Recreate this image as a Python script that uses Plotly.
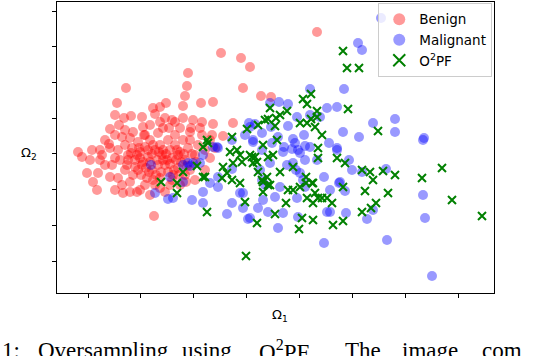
import plotly.graph_objects as go

# Values in chart units (Ω1 horizontally, Ω2 vertically)
benign_pts = [
    (221,247),(241,242),(250,233),(317,268),(243,212),(261,204),(271,203),(188,227),(187,214),(185,204),
    (183,194),(126,212),(117,197),(201,197),(213,198),(153,192),(160,193),(166,197),(115,185),(124,182),
    (131,184),(142,183),(155,186),(165,182),(172,180),(183,182),(193,180),(202,178),(213,176),(233,177),
    (110,171),(119,175),(122,163),(133,168),(143,173),(144,165),(163,172),(169,172),(180,172),(191,172),
    (202,165),(212,165),(223,164),(109,156),(78,148),(82,143),(87,127),(93,118),(97,110),(98,127),
    (100,140),(102,145),(110,152),(112,135),(110,123),(122,115),(123,107),(137,108),(154,84),(155,115),
    (118,150),(125,155),(128,145),(132,152),(135,140),(138,158),(140,148),(142,135),(145,153),(148,143),
    (150,160),(152,130),(155,150),(157,140),(160,155),(162,145),(165,135),(168,160),(170,150),(172,142),
    (175,155),(178,132),(180,148),(183,160),(185,140),(188,152),(190,130),(127,135),(133,125),(147,122),
    (160,122),(173,125),(120,140),(130,162),(145,165),(158,167),(175,165),(190,160),(195,145),(198,155),
    (150,138),(163,150),(138,130),(153,155),(167,140),(178,145),(125,130),(140,142),(185,125),(196,138),
    (115,142),(205,150),(210,142),(205,130),(215,152),(195,120),(170,115),(180,115),(145,115),(130,118),
    (118,122),(105,135),(100,150),(90,140),(92,150),(105,160),(115,165),(125,170),(150,175),(160,178),
    (175,178),(190,168),(200,172),(210,160),(140,110),(150,105),(160,112),(165,108),(130,108),(115,110),
    (137,145),(143,138),(148,150),(152,146),(158,135),(161,128),(166,146),(170,136),(174,130),(177,150),
    (181,138),(184,146),(187,134),(149,128),(156,125),(163,140),(168,128),(172,120),(141,125),(135,133),
    (128,140),(131,147),(146,132),(153,120),(179,125),(186,118),(192,146),(139,152),(159,148),(176,140),
]
malignant_pts = [
    (381,282),(358,257),(362,250),(344,211),(310,211),(337,193),(327,192),(373,177),(395,181),(395,168),
    (343,168),(359,163),(424,162),(337,152),(329,157),(337,150),(349,140),(362,128),(386,131),(339,117),
    (330,110),(345,109),(423,105),(346,87),(367,81),(373,90),(330,88),(425,82),(387,60),(432,24),
    (423,160),(279,198),(270,197),(288,196),(297,183),(288,174),(249,177),(262,167),(271,173),(304,165),
    (278,163),(293,161),(245,165),(253,158),(284,153),(305,154),(310,153),(320,183),(310,185),(203,108),
    (203,97),(210,117),(218,113),(227,86),(232,97),(243,92),(243,107),(248,81),(258,92),(263,100),
    (268,88),(275,103),(278,72),(280,113),(283,87),(287,135),(297,102),(298,83),(300,127),(303,120),
    (305,113),(324,123),(324,57),(327,88),(340,118),(352,130),(262,150),(272,157),(283,148),(295,157),
    (300,147),(262,120),(265,115),(260,130),(250,82),(155,107),(168,101),(173,102),(183,118),(192,100),
    (240,107),(190,134),(183,135),(200,137),(232,131),(218,123),(255,176),(232,160),(253,160),(218,152),
    (213,153),(203,145),(193,137),(317,140),(293,137),(270,137),(292,151),(298,150),(151,135),(170,123),
    (188,137),(217,153),(250,173),(305,140),(296,130),
]
o2pf_pts = [
    (343,249),(347,232),(359,232),(303,201),(311,206),(307,196),(348,191),(317,189),(287,189),(280,185),
    (270,192),(268,181),(276,182),(317,183),(311,181),(300,177),(307,177),(315,173),(275,174),(265,180),
    (258,175),(247,171),(322,165),(232,163),(277,160),(263,155),(318,152),(207,160),(203,153),(378,169),
    (337,142),(345,137),(362,130),(370,128),(383,129),(395,125),(373,120),(343,113),(365,109),(388,107),
    (422,122),(442,132),(452,100),(482,84),(332,97),(376,97),(371,92),(362,88),(343,79),(333,75),
    (207,88),(203,123),(223,133),(227,127),(222,122),(230,148),(237,150),(240,145),(242,138),(232,120),
    (240,117),(245,98),(252,143),(257,138),(258,128),(268,143),(273,145),(263,118),(270,115),(263,108),
    (267,123),(280,128),(257,77),(275,86),(286,97),(288,110),(293,110),(293,133),(300,113),(302,82),
    (299,71),(306,123),(306,117),(313,117),(313,80),(307,102),(315,107),(318,102),(313,97),(327,102),
    (318,142),(246,44),(208,157),(161,118),(177,117),(177,107),(183,128),(197,134),(205,123),(233,137),
    (250,145),(253,137),(255,143),(262,120),(268,115),(312,117),(322,102),
]

# caption fragment visible under the chart (words and their left edges in pixels)
caption_words = ["1:", "Oversampling", "using", "O<sup>2</sup>PF.", "The", "image", "com"]
caption_left_px = [0, 36, 180, 257, 343, 400, 480]

benign_x = [p[0] for p in benign_pts]
benign_y = [p[1] for p in benign_pts]
malig_x = [p[0] for p in malignant_pts]
malig_y = [p[1] for p in malignant_pts]
o2pf_x = [p[0] for p in o2pf_pts]
o2pf_y = [p[1] for p in o2pf_pts]

FONT = "DejaVu Sans"
L, R, T, B = 57, 42, 2, 63
PW = 536 - L - R
PH = 356 - T - B

fig = go.Figure()
fig.add_trace(go.Scatter(x=benign_x, y=benign_y, mode="markers", name="Benign",
                         marker=dict(size=10, color="rgba(255,0,0,0.4)", line=dict(width=0))))
fig.add_trace(go.Scatter(x=malig_x, y=malig_y, mode="markers", name="Malignant",
                         marker=dict(size=10, color="rgba(0,0,255,0.4)", line=dict(width=0))))
fig.add_trace(go.Scatter(x=o2pf_x, y=o2pf_y, mode="markers", name="O<sup>2</sup>PF",
                         marker=dict(size=8, symbol="x-thin", color="green",
                                     line=dict(width=2, color="green"))))

axis_common = dict(showgrid=False, zeroline=False, showticklabels=False,
                   ticks="outside", ticklen=4, tickwidth=1, tickcolor="black",
                   showline=True, linecolor="black", linewidth=1, mirror=True)
fig.update_xaxes(range=[57, 494], tick0=88, dtick=52.9, **axis_common)
fig.update_yaxes(range=[7, 298], tick0=39, dtick=35.7, **axis_common)

annotations = [
    dict(text="Ω<sub>1</sub>", xref="paper", yref="paper", x=(280 - L) / PW, y=-(315 - (T + PH)) / PH,
         xanchor="center", yanchor="middle", showarrow=False, font=dict(family=FONT, size=13)),
    dict(text="Ω<sub>2</sub>", xref="paper", yref="paper", x=(29 - L) / PW, y=1 - (153 - T) / PH,
         xanchor="center", yanchor="middle", showarrow=False, font=dict(family=FONT, size=13)),
]
for w, px in zip(caption_words, caption_left_px):
    annotations.append(dict(text=w, xref="paper", yref="paper", x=(px - L) / PW,
                            y=-(350 - (T + PH)) / PH, xanchor="left", yanchor="middle",
                            showarrow=False, font=dict(family="Liberation Serif", size=23)))

fig.update_layout(
    width=536, height=356,
    margin=dict(l=L, r=R, t=T, b=B),
    plot_bgcolor="white", paper_bgcolor="white",
    font=dict(family=FONT, size=13, color="black"),
    showlegend=True,
    legend=dict(x=0.996, y=0.997, xanchor="right", yanchor="top",
                bgcolor="rgba(255,255,255,0.8)", bordercolor="#cccccc", borderwidth=1,
                font=dict(family=FONT, size=13.5), itemsizing="constant",
                tracegroupgap=0, itemwidth=30),
    annotations=annotations,
)

fig.write_html("out.html", config={"displayModeBar": False, "staticPlot": True},
               post_script="document.body.style.margin='0';document.body.style.overflow='hidden';")
